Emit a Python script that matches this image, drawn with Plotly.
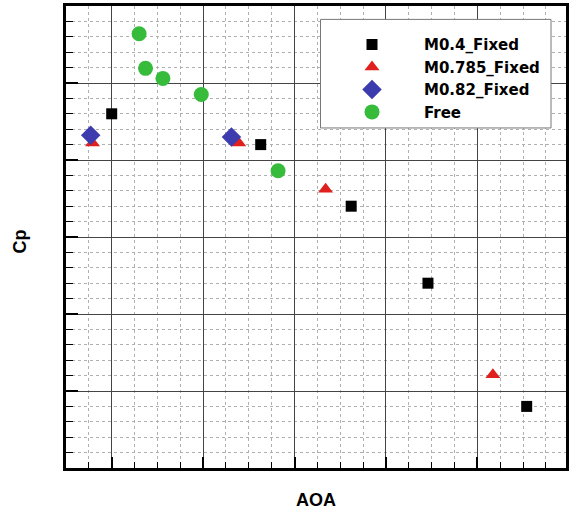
import plotly.graph_objects as go

# Data (AOA in arbitrary axis units, Cp in arbitrary axis units; no tick labels in the reference)
m04_aoa = [1.00, 2.63, 3.62, 4.46, 5.54]
m04_cp = [4.60, 4.20, 3.40, 2.40, 0.80]

m0785_aoa = [0.79, 2.39, 3.34, 5.17]
m0785_cp = [4.22, 4.22, 3.62, 1.21]

m082_aoa = [0.77, 2.31]
m082_cp = [4.32, 4.30]

free_aoa = [1.30, 1.37, 1.56, 1.98, 2.82]
free_cp = [5.64, 5.19, 5.06, 4.85, 3.86]

series_names = ["M0.4_Fixed", "M0.785_Fixed", "M0.82_Fixed", "Free"]

fig = go.Figure()
fig.add_trace(go.Scatter(x=m04_aoa, y=m04_cp, mode="markers", name=series_names[0],
                         marker=dict(symbol="square", size=11, color="#000000")))
fig.add_trace(go.Scatter(x=m0785_aoa, y=m0785_cp, mode="markers", name=series_names[1],
                         marker=dict(symbol="triangle-up", size=13, color="#e0201c")))
fig.add_trace(go.Scatter(x=m082_aoa, y=m082_cp, mode="markers", name=series_names[2],
                         marker=dict(symbol="diamond", size=15, color="#3c3cae")))
fig.add_trace(go.Scatter(x=free_aoa, y=free_cp, mode="markers", name=series_names[3],
                         marker=dict(symbol="circle", size=15, color="#36bb3a")))

axis_common = dict(
    showline=True, linecolor="black", linewidth=2.5, mirror=True,
    showgrid=True, gridcolor="#444444", gridwidth=1,
    zeroline=False, showticklabels=False,
    ticks="inside", tickcolor="black", tickwidth=2,
)

fig.update_xaxes(**axis_common, range=[0.5, 5.97], tick0=0, dtick=1, ticklen=11,
                 minor=dict(dtick=0.25, showgrid=True, gridcolor="#b0b0b0", griddash="dot",
                            ticks="inside", ticklen=6, tickcolor="black", tickwidth=1))
fig.update_yaxes(**axis_common, range=[0, 6], tick0=0, dtick=1, ticklen=12,
                 minor=dict(dtick=0.2, showgrid=True, gridcolor="#b0b0b0", griddash="dot",
                            ticks="inside", ticklen=7, tickcolor="black", tickwidth=1))

fig.update_layout(
    width=572, height=512,
    margin=dict(l=66, r=3, t=6, b=44),
    paper_bgcolor="white", plot_bgcolor="white",
    font=dict(family="Liberation Sans, Arial, sans-serif", color="black"),
    showlegend=True,
    legend=dict(x=0.508, y=0.952, xanchor="left", yanchor="top",
                bgcolor="rgba(0,0,0,0)", borderwidth=0,
                itemwidth=94, font=dict(size=15, family="DejaVu Sans, sans-serif",
                                        color="black", weight="bold")),
    shapes=[
        dict(type="rect", xref="paper", yref="paper", x0=0.509, x1=0.970, y0=0.736, y1=0.971,
             fillcolor="white", line=dict(color="#777777", width=1), layer="above"),
    ],
    annotations=[
        dict(text="<b>AOA</b>", xref="paper", yref="paper", x=0.5, y=-0.069,
             xanchor="center", yanchor="middle", showarrow=False, font=dict(size=18)),
        dict(text="<b>Cp</b>", xref="paper", yref="paper", x=-0.0915, y=0.491,
             xanchor="center", yanchor="middle", showarrow=False, textangle=-90,
             font=dict(size=18)),
    ],
)

fig.write_html("out.html", config={"displayModeBar": False},
               post_script="document.body.style.margin='0px';")
